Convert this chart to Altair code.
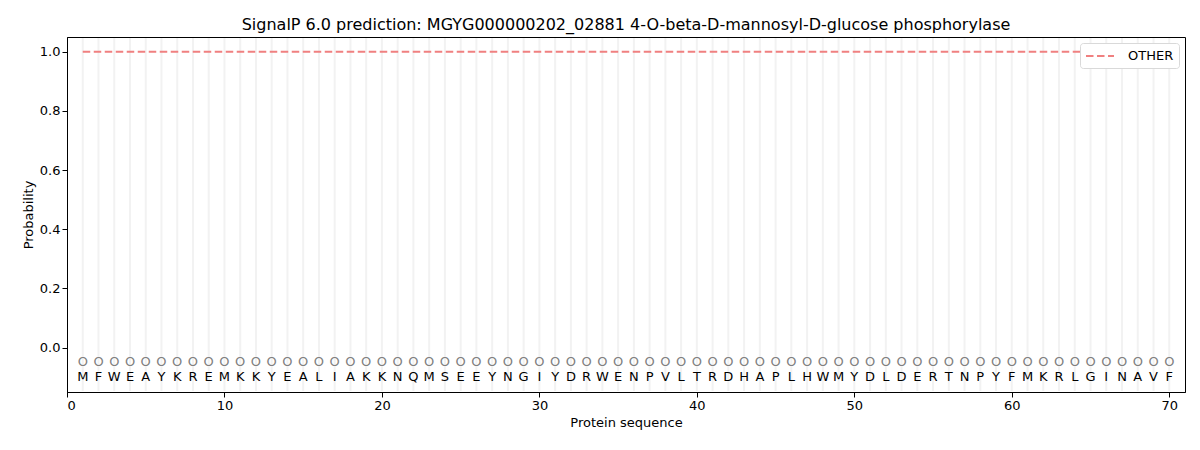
import altair as alt
import pandas as pd

sequence = list("MFWEAYKREMKKYEALIAKKNQMSEEYNGIYDRWENPVLTRDHAPLHWMYDLDERTNPYFMKRLGINAVF")
positions = list(range(1, len(sequence) + 1))
other_prob = [1.0] * len(sequence)
pred_labels = ["O"] * len(sequence)

df = pd.DataFrame({
    "pos": positions,
    "aa": sequence,
    "prob": other_prob,
    "pred": pred_labels,
    "series": ["OTHER"] * len(sequence),
})

font = "DejaVu Sans"
xs = alt.Scale(domain=[0, 71], nice=False, zero=False)
ys = alt.Scale(domain=[-0.15, 1.05], nice=False, zero=False)

grid = alt.Chart(df).mark_rule(color="#f2f2f2", strokeWidth=2).encode(
    x=alt.X("pos:Q", scale=xs),
    y=alt.value(1),
    y2=alt.value(354),
)

line = alt.Chart(df).mark_line(strokeWidth=2, strokeDash=[7.5, 3.5]).encode(
    x=alt.X("pos:Q", scale=xs, title="Protein sequence",
            axis=alt.Axis(values=[0, 10, 20, 30, 40, 50, 60, 70], grid=False, format="d")),
    y=alt.Y("prob:Q", scale=ys, title="Probability",
            axis=alt.Axis(values=[0, 0.2, 0.4, 0.6, 0.8, 1.0], grid=False, format=".1f")),
    color=alt.Color("series:N", scale=alt.Scale(domain=["OTHER"], range=["#f08080"]),
                    legend=alt.Legend(title=None, orient="top-right", symbolType="M-2,0L2,0",
                                      symbolStrokeWidth=2, symbolDash=[7.5, 3.5], symbolSize=196,
                                      symbolOffset=7, labelOffset=20,
                                      fillColor="white", strokeColor="#d9d9d9", padding=5,
                                      cornerRadius=3, labelFontSize=13, labelFont=font,
                                      labelColor="black", offset=6)),
)

circles = alt.Chart(df).mark_text(fontSize=13, color="#808080", font=font).encode(
    x=alt.X("pos:Q", scale=xs),
    y=alt.datum(-0.047),
    text="pred:N",
)

letters = alt.Chart(df).mark_text(fontSize=13, color="black", font=font).encode(
    x=alt.X("pos:Q", scale=xs),
    y=alt.datum(-0.1),
    text="aa:N",
)

chart = alt.layer(grid, line, circles, letters).properties(
    width=1118,
    height=355,
    title=alt.Title("SignalP 6.0 prediction: MGYG000000202_02881 4-O-beta-D-mannosyl-D-glucose phosphorylase",
                    fontSize=16, font=font, fontWeight="normal", offset=4),
    padding={"left": 59, "top": 29, "right": 7, "bottom": 50},
    autosize=alt.AutoSizeParams(type="none"),
).configure_view(stroke="black", strokeWidth=1).configure_axis(
    labelFont=font, titleFont=font, labelFontSize=13, titleFontSize=13,
    labelColor="black", titleColor="black", domainColor="black", tickColor="black",
    titleFontWeight="normal", tickSize=5,
)

chart.save("out.html", embed_options={"renderer": "svg", "actions": False})
